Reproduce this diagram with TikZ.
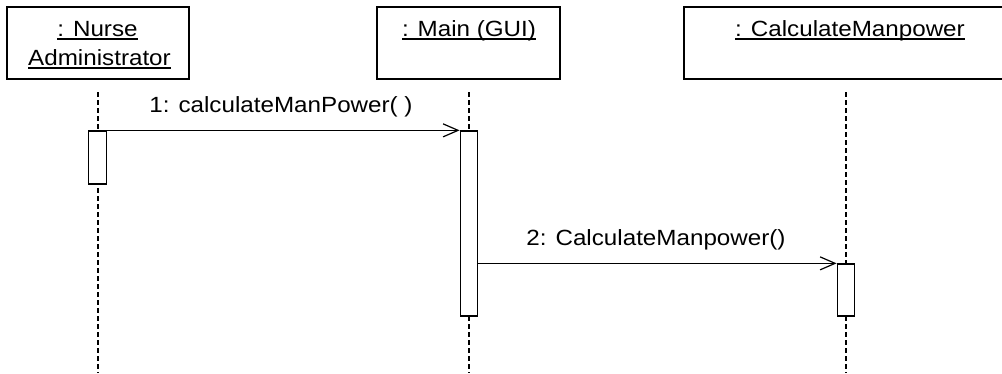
\documentclass[tikz,border=0pt]{standalone}
\usepackage{fontspec}
\setmainfont{Liberation Sans}[FakeStretch=1.1]
\usetikzlibrary{arrows.meta}
\newcommand\ulx[1]{\setbox0\hbox{#1}\rlap{\rule[-3.5pt]{\wd0}{1.3pt}}\box0}
\tikzset{
  objbox/.style={draw, line width=1.4pt, fill=white, inner sep=0pt, minimum height=72pt},
  actbox/.style={draw, line width=1.3pt, fill=white, inner sep=0pt, minimum width=17.5pt},
  lifeline/.style={line width=1.8pt, dash pattern=on 4.5pt off 3.5pt},
  msg/.style={line width=1.3pt, -{Straight Barb[length=15pt,width=13pt,line width=1.2pt]}},
  lbl/.style={anchor=base, inner sep=0pt, font=\fontsize{22}{26}\selectfont},
}
\begin{document}
\begin{tikzpicture}[x=1pt,y=-1pt]
\useasboundingbox (0,0) rectangle (1002,373);
% object boxes
\node[objbox, minimum width=182pt] (obj1) at (98,43) {};
\node[objbox, minimum width=183pt] (obj2) at (468.5,43) {};
\node[objbox, minimum width=330pt] (obj3) at (849,43) {};
% object labels
\node[lbl] (t1a) at (97.5,36) {\ulx{: Nurse}};
\node[lbl] (t1b) at (99.5,65) {\ulx{Administrator}};
\node[lbl] (t2) at (469,36) {\ulx{: Main (GUI)}};
\node[lbl] (t3) at (850,36) {\ulx{: CalculateManpower}};
% lifeline coordinates
\coordinate (l1t) at (98,92);  \coordinate (l1b) at (98,373);
\coordinate (l2t) at (469,92); \coordinate (l2b) at (469,373);
\coordinate (l3t) at (846,92); \coordinate (l3b) at (846,373);
\draw[lifeline] (l1t) -- (l1b);
\draw[lifeline] (l2t) -- (l2b);
\draw[lifeline] (l3t) -- (l3b);
% activations
\node[actbox, minimum height=53pt] (act1) at (97.5,157.5) {};
\node[actbox, minimum height=185pt] (act2) at (469,223.5) {};
\node[actbox, minimum height=52pt] (act3) at (846,290) {};
% messages
\draw[msg] (act1.north east) -- (act2.north west);
\draw[msg] (act2.east |- act3.north) -- (act3.north west);
\node[lbl] (m1) at (281,112) {1: calculateManPower( )};
\node[lbl] (m2) at (656,245) {2: CalculateManpower()};
\end{tikzpicture}
\end{document}
